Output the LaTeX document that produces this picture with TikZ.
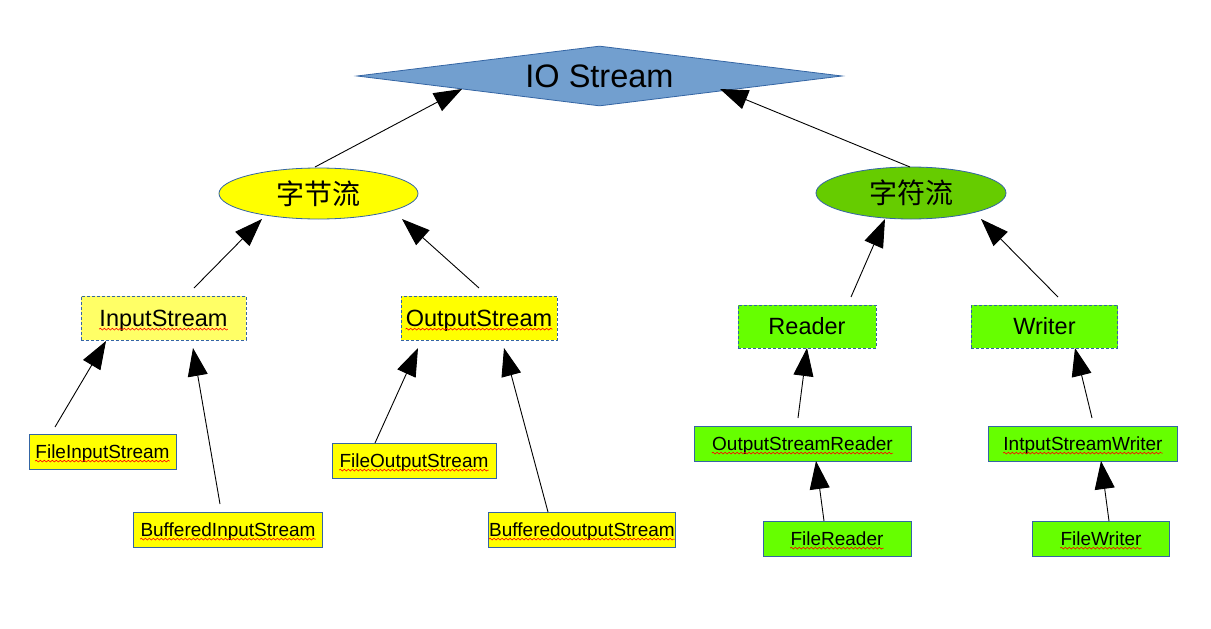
\documentclass[tikz,border=0pt]{standalone}
\usepackage{fontspec}
\setmainfont{Liberation Sans}
\newfontfamily\cjk{Noto Sans CJK SC}
\usetikzlibrary{shapes.geometric,arrows.meta,decorations.pathmorphing}
\definecolor{bord}{HTML}{3465A4}
\definecolor{dia}{HTML}{729FCF}
\definecolor{yel}{HTML}{FFFF00}
\definecolor{lyel}{HTML}{FFFF66}
\definecolor{grn}{HTML}{66FF00}
\definecolor{dgrn}{HTML}{66CC00}
\newcommand\wv[2]{\draw[wave] ([xshift=#2pt,yshift=-3pt]#1.base west) -- ([xshift=-#2pt,yshift=-3pt]#1.base east);}
\begin{document}
\begin{tikzpicture}[x=1pt,y=-1pt,
  big/.style={draw=bord, line width=0.8pt, dash pattern=on 3pt off 2pt, font=\fontsize{23.5}{28}\selectfont, text height=21.3pt, text depth=5pt, minimum height=44pt, inner ysep=0pt},
  small/.style={draw=bord, line width=0.8pt, font=\fontsize{19}{23}\selectfont, text height=17.2pt, text depth=4pt, minimum height=35pt, inner ysep=0pt},
  ell/.style={ellipse, draw=bord, line width=0.8pt, inner sep=0pt, font=\cjk\fontsize{28}{32}\selectfont},
  link/.style={line width=0.9pt, -{Triangle[length=28pt,width=20pt]}},
  wave/.style={red, line width=0.6pt, decorate, decoration={snake, segment length=4pt, amplitude=0.9pt}}
]
\fill[white] (0,0) rectangle (1211,629);
\useasboundingbox (0,0) rectangle (1211,629);

% top
\node[diamond, aspect=8, draw=bord, fill=dia, line width=0.8pt, minimum width=485pt, minimum height=60pt, inner sep=0pt, font=\fontsize{32.5}{36}\selectfont] (io) at (599.5,76) {IO Stream};
\node[ell, fill=yel, minimum width=199pt, minimum height=51pt] (byte) at (318.5,193.5) {字节流};
\node[ell, fill=dgrn, minimum width=190pt, minimum height=52pt] (char) at (911,193) {字符流};

% second level
\node[big, fill=lyel, inner xsep=18.5pt] (is) at (163.5,318) {InputStream};
\node[big, fill=yel, inner xsep=4.8pt] (os) at (479,318) {OutputStream};
\node[big, fill=grn, inner xsep=30.5pt, minimum height=43pt] (rd) at (807,326.5) {Reader};
\node[big, fill=grn, inner xsep=42pt, minimum height=43pt] (wr) at (1044.5,326.5) {Writer};

% leaves
\node[small, fill=yel, inner xsep=6.5pt] (fis) at (102.5,451.5) {FileInputStream};
\node[small, fill=yel, inner xsep=7.4pt] (bis) at (228,529.5) {BufferedInputStream};
\node[small, fill=yel, inner xsep=7.5pt] (fos) at (414,460.5) {FileOutputStream};
\node[small, fill=yel, inner xsep=0.8pt] (bos) at (582,529.5) {BufferedoutputStream};
\node[small, fill=grn, inner xsep=18.2pt] (osr) at (802.5,443.5) {OutputStreamReader};
\node[small, fill=grn, inner xsep=15.3pt] (isw) at (1083,443.5) {IntputStreamWriter};
\node[small, fill=grn, inner xsep=27.5pt] (fr) at (837,538.5) {FileReader};
\node[small, fill=grn, inner xsep=28.4pt] (fw) at (1101,538.5) {FileWriter};

% spell-check squiggles
\wv{is}{18.5}\wv{os}{4.8}
\wv{fis}{6.5}\wv{bis}{7.4}\wv{fos}{7.5}\wv{bos}{0.8}
\wv{osr}{18.2}\wv{isw}{15.3}\wv{fr}{27.5}\wv{fw}{28.4}

% connector end points
\coordinate (byte-s) at (315,167);   \coordinate (io-l) at (462,89);
\coordinate (char-s) at (910,167);   \coordinate (io-r) at (720,89);
\coordinate (is-s) at (194,288);     \coordinate (byte-l) at (262,219);
\coordinate (os-s) at (479,288);     \coordinate (byte-r) at (402,219);
\coordinate (rd-s) at (851,297);     \coordinate (char-l) at (885,219);
\coordinate (wr-s) at (1058,297);    \coordinate (char-r) at (981,219);
\coordinate (fis-s) at (55,427);     \coordinate (is-l) at (106,341);
\coordinate (bis-s) at (220,504);    \coordinate (is-r) at (193,348);
\coordinate (fos-s) at (375,443);    \coordinate (os-l) at (418,348);
\coordinate (bos-s) at (548,512);    \coordinate (os-r) at (504,348);
\coordinate (osr-s) at (798,418);    \coordinate (rd-b) at (807,348);
\coordinate (fr-s) at (824,521);     \coordinate (osr-b) at (816,461);
\coordinate (isw-s) at (1092,418);   \coordinate (wr-b) at (1075,348);
\coordinate (fw-s) at (1109,521);    \coordinate (isw-b) at (1101,461);

\draw[link] (byte-s) -- (io-l);
\draw[link] (char-s) -- (io-r);
\draw[link] (is-s) -- (byte-l);
\draw[link] (os-s) -- (byte-r);
\draw[link] (rd-s) -- (char-l);
\draw[link] (wr-s) -- (char-r);
\draw[link] (fis-s) -- (is-l);
\draw[link] (bis-s) -- (is-r);
\draw[link] (fos-s) -- (os-l);
\draw[link] (bos-s) -- (os-r);
\draw[link] (osr-s) -- (rd-b);
\draw[link] (fr-s) -- (osr-b);
\draw[link] (isw-s) -- (wr-b);
\draw[link] (fw-s) -- (isw-b);
\end{tikzpicture}
\end{document}
